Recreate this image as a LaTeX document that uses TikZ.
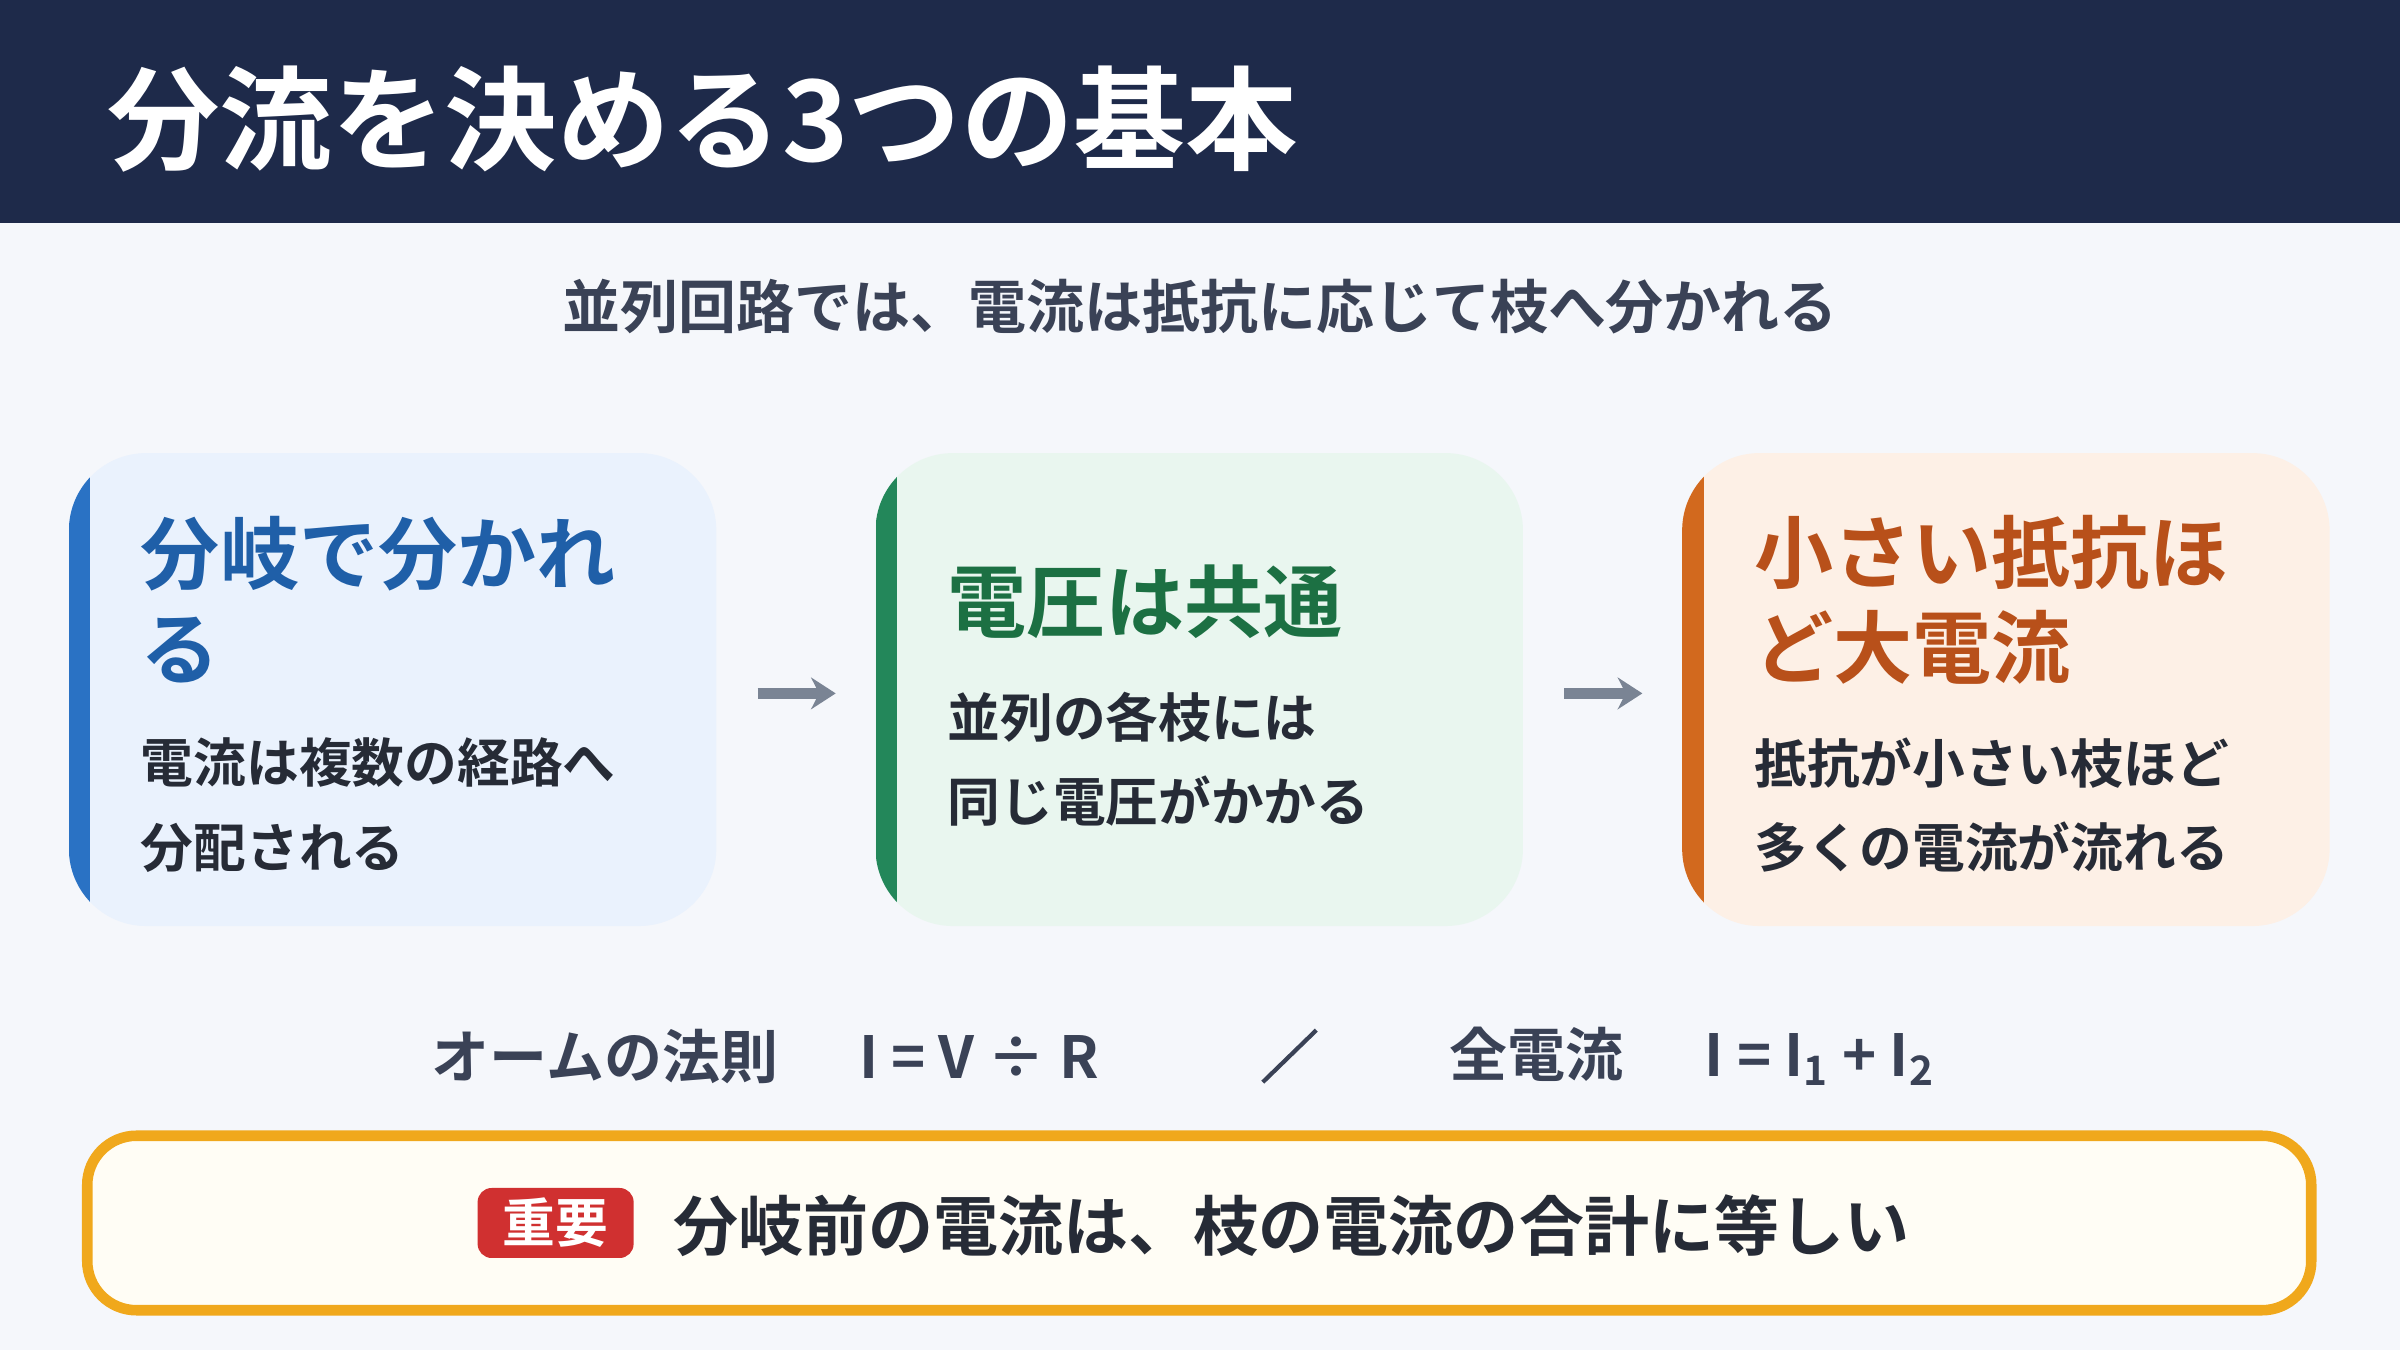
\documentclass[tikz,border=0pt]{standalone}
\usepackage{fontspec}
\setmainfont{Noto Sans CJK JP}
\newfontfamily\jpbold{Noto Sans CJK JP Bold}
\definecolor{navy}{HTML}{1E2A4A}
\definecolor{bgpage}{HTML}{F5F7FB}
\definecolor{inktext}{HTML}{3A4256}
\definecolor{bodytext}{HTML}{262B36}
\definecolor{blueBar}{HTML}{2A72C4}
\definecolor{blueFill}{HTML}{EAF2FD}
\definecolor{blueHead}{HTML}{1F5FA8}
\definecolor{greenBar}{HTML}{23875A}
\definecolor{greenFill}{HTML}{E9F6EF}
\definecolor{greenHead}{HTML}{1C7043}
\definecolor{orangeBar}{HTML}{D2691E}
\definecolor{orangeFill}{HTML}{FDF0E6}
\definecolor{orangeHead}{HTML}{B8501A}
\definecolor{noteBorder}{HTML}{F0A81C}
\definecolor{noteFill}{HTML}{FFFDF5}
\definecolor{tagRed}{HTML}{D03030}
\definecolor{arrowGray}{HTML}{7A8494}

\tikzset{
  head/.style={anchor=west, align=left, font=\jpbold\fontsize{22.5}{27}\selectfont},
  body/.style={anchor=west, align=left, text=bodytext, font=\jpbold\fontsize{15}{24}\selectfont},
  flowarrow/.style={draw=arrowGray, line width=3pt, -{Stealth[length=7pt,width=9pt]}},
}
\usetikzlibrary{arrows.meta}

\begin{document}
\begin{tikzpicture}[x=0.015306cm, y=-0.015306cm]
    \useasboundingbox (0,0) rectangle (1568,882);
    \fill[bgpage] (0,0) rectangle (1568,882);

    % header
    \fill[navy] (0,0) rectangle (1568,146);
    \node[anchor=west, text=white, font=\jpbold\fontsize{32}{34}\selectfont] (title) at (62,78) {分流を決める3つの基本};
    \node[text=inktext, font=\jpbold\fontsize{16.5}{18}\selectfont] (sub) at (784,200) {並列回路では、電流は抵抗に応じて枝へ分かれる};

    % three cards
    \foreach \x/\c in {45/blue, 572/green, 1099/orange} {
        \fill[\c Fill, rounded corners=22] (\x,296) rectangle ++(423,309);
        \begin{scope}
            \clip[rounded corners=22] (\x,296) rectangle ++(423,309);
            \fill[\c Bar] (\x,296) rectangle ++(14,309);
        \end{scope}
    }

    \node[head, text=blueHead] (h1) at (84,392) {分岐で分かれ\\る};
    \node[body] (b1) at (84,526) {電流は複数の経路へ\\分配される};
    \node[head, text=greenHead] (h2) at (611,393) {電圧は共通};
    \node[body] (b2) at (611,496) {並列の各枝には\\同じ電圧がかかる};
    \node[head, text=orangeHead] (h3) at (1138,392) {小さい抵抗ほ\\ど大電流};
    \node[body] (b3) at (1138,526) {抵抗が小さい枝ほど\\多くの電流が流れる};

    % arrows between cards
    \coordinate (a1) at (495,453);
    \coordinate (a2) at (546,453);
    \coordinate (a3) at (1022,453);
    \coordinate (a4) at (1073,453);
    \draw[flowarrow] (a1) -- (a2);
    \draw[flowarrow] (a3) -- (a4);

    % formulas
    \node[anchor=west, text=inktext, font=\jpbold\fontsize{16.5}{18}\selectfont] (ohm) at (274,690) {オームの法則\hspace{1.4em}I = V ÷ R};
    \coordinate (s1) at (825,707);
    \coordinate (s2) at (860,673);
    \draw[inktext, line width=1.2pt] (s1) -- (s2);
    \node[anchor=west, text=inktext, font=\jpbold\fontsize{16.5}{18}\selectfont] (sum) at (939,690) {全電流\hspace{1.4em}I = I\textsubscript{1} + I\textsubscript{2}};

    % note box
    \draw[noteBorder, fill=noteFill, line width=3pt, rounded corners=14] (57,742) rectangle (1510,856);
    \node[fill=tagRed, text=white, rounded corners=4, minimum width=1.56cm, minimum height=0.7cm, inner sep=0pt, font=\jpbold\fontsize{15}{16}\selectfont] (tag) at (363,799) {重要};
    \node[anchor=west, text=bodytext, font=\jpbold\fontsize{18.5}{20}\selectfont] (note) at (432,801) {分岐前の電流は、枝の電流の合計に等しい};
\end{tikzpicture}
\end{document}
